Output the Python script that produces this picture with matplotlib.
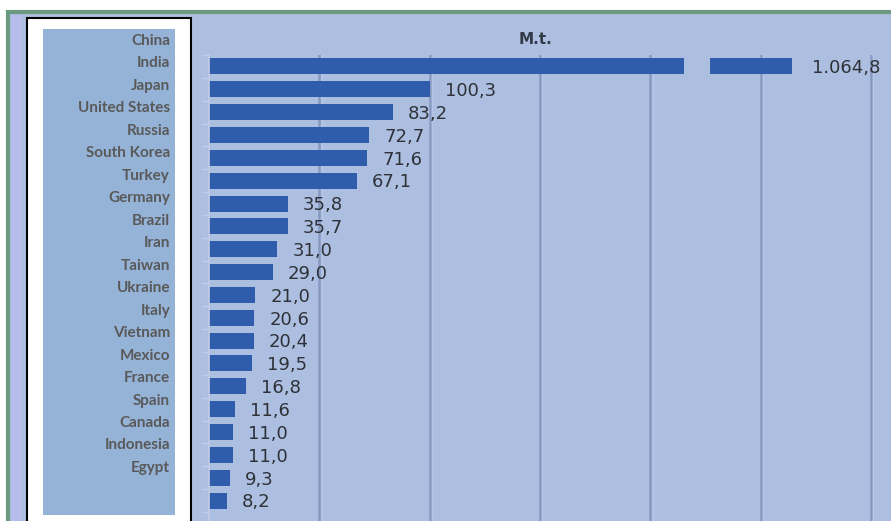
import matplotlib
matplotlib.use("Agg")
import matplotlib.pyplot as plt
from matplotlib.patches import Rectangle

countries = ["China", "India", "Japan", "United States", "Russia", "South Korea",
             "Turkey", "Germany", "Brazil", "Iran", "Taiwan", "Ukraine", "Italy",
             "Vietnam", "Mexico", "France", "Spain", "Canada", "Indonesia", "Egypt"]
values = [1064.8, 100.3, 83.2, 72.7, 71.6, 67.1, 35.8, 35.7, 31.0, 29.0,
          21.0, 20.6, 20.4, 19.5, 16.8, 11.6, 11.0, 11.0, 9.3, 8.2]
unit_title = "M.t."
grid_ticks = [50, 100, 150, 200, 250, 300]

# axis break used for the out-of-scale first bar
break_start, break_end, shown_end = 215.0, 227.0, 264.0

W, H = 891, 521
fig = plt.figure(figsize=(W / 100, H / 100), dpi=100)
fig.patch.set_facecolor("white")

def fx(x):
    return x / W

def fy(y):
    return 1 - y / H

def frect(x0, y0, x1, y1, **kw):
    r = Rectangle((fx(x0), fy(y1)), fx(x1) - fx(x0), fy(y0) - fy(y1),
                  transform=fig.transFigure, **kw)
    fig.patches.append(r)
    return r

# outer chart frame
frect(8, 12, 900, 530, facecolor="#adbfe0", edgecolor="#6b9a80", linewidth=3, zorder=0)
frect(11, 15, 22, 530, facecolor="#b6bdea", edgecolor="none", zorder=0.5)
# label box
frect(27, 18, 191, 530, facecolor="white", edgecolor="black", linewidth=1.5, zorder=1)
frect(43, 29, 175, 515, facecolor="#95b3d7", edgecolor="none", zorder=2)

for i, name in enumerate(countries):
    fig.text(fx(170), fy(41 + 22.47 * i), name, ha="right", va="center",
             fontsize=11, fontweight="bold", color="#595959", family="Lato", zorder=3)

# plot axes
px_per_unit = 2.207
left_px, top_px = 209, 55
ax = fig.add_axes([fx(left_px), 0, 1 - fx(left_px), fy(top_px)])
ax.set_zorder(5)
ax.set_facecolor("none")
ax.set_xlim(0, (W - left_px) / px_per_unit)
spacing = 22.92
ax.set_ylim(19 + (H - 500.5) / spacing, -(65 - top_px) / spacing)

for g in grid_ticks:
    ax.axvline(g, color="#8799c0", linewidth=1.8, zorder=1)
    ax.axvline(g + 1.0, color="#b7c6e6", linewidth=1.0, zorder=1)

bar_color = "#2f5dab"
bh = 0.7

def fmt(v):
    s = f"{v:,.1f}"
    return s.replace(",", "X").replace(".", ",").replace("X", ".")

off = 15 / px_per_unit
for i, v in enumerate(values):
    if v > shown_end:
        ax.barh(i, break_start, height=bh, color=bar_color, zorder=2)
        ax.barh(i, shown_end - break_end, left=break_end, height=bh, color=bar_color, zorder=2)
        end = shown_end + 5 / px_per_unit
    else:
        ax.barh(i, v, height=bh, color=bar_color, zorder=2)
        end = v
    ax.text(end + off, i + 0.08, fmt(v), ha="left", va="center", fontsize=13,
            color="#2e3138", family="DejaVu Sans", zorder=3, clip_on=False)

for s in ["top", "right", "bottom"]:
    ax.spines[s].set_visible(False)
ax.spines["left"].set_color("#c3cce6")
ax.spines["left"].set_linewidth(1.2)
ax.set_yticks([i + 0.5 for i in range(-1, len(values))])
ax.set_yticklabels([])
ax.tick_params(axis="y", length=5, color="#c3cce6", width=1)
ax.set_xticks([])

fig.text(fx(536), fy(40), unit_title, ha="center", va="center", fontsize=11,
         fontweight="bold", color="#333a48", family="DejaVu Sans")

fig.savefig("out.png", dpi=100, facecolor=fig.get_facecolor())
